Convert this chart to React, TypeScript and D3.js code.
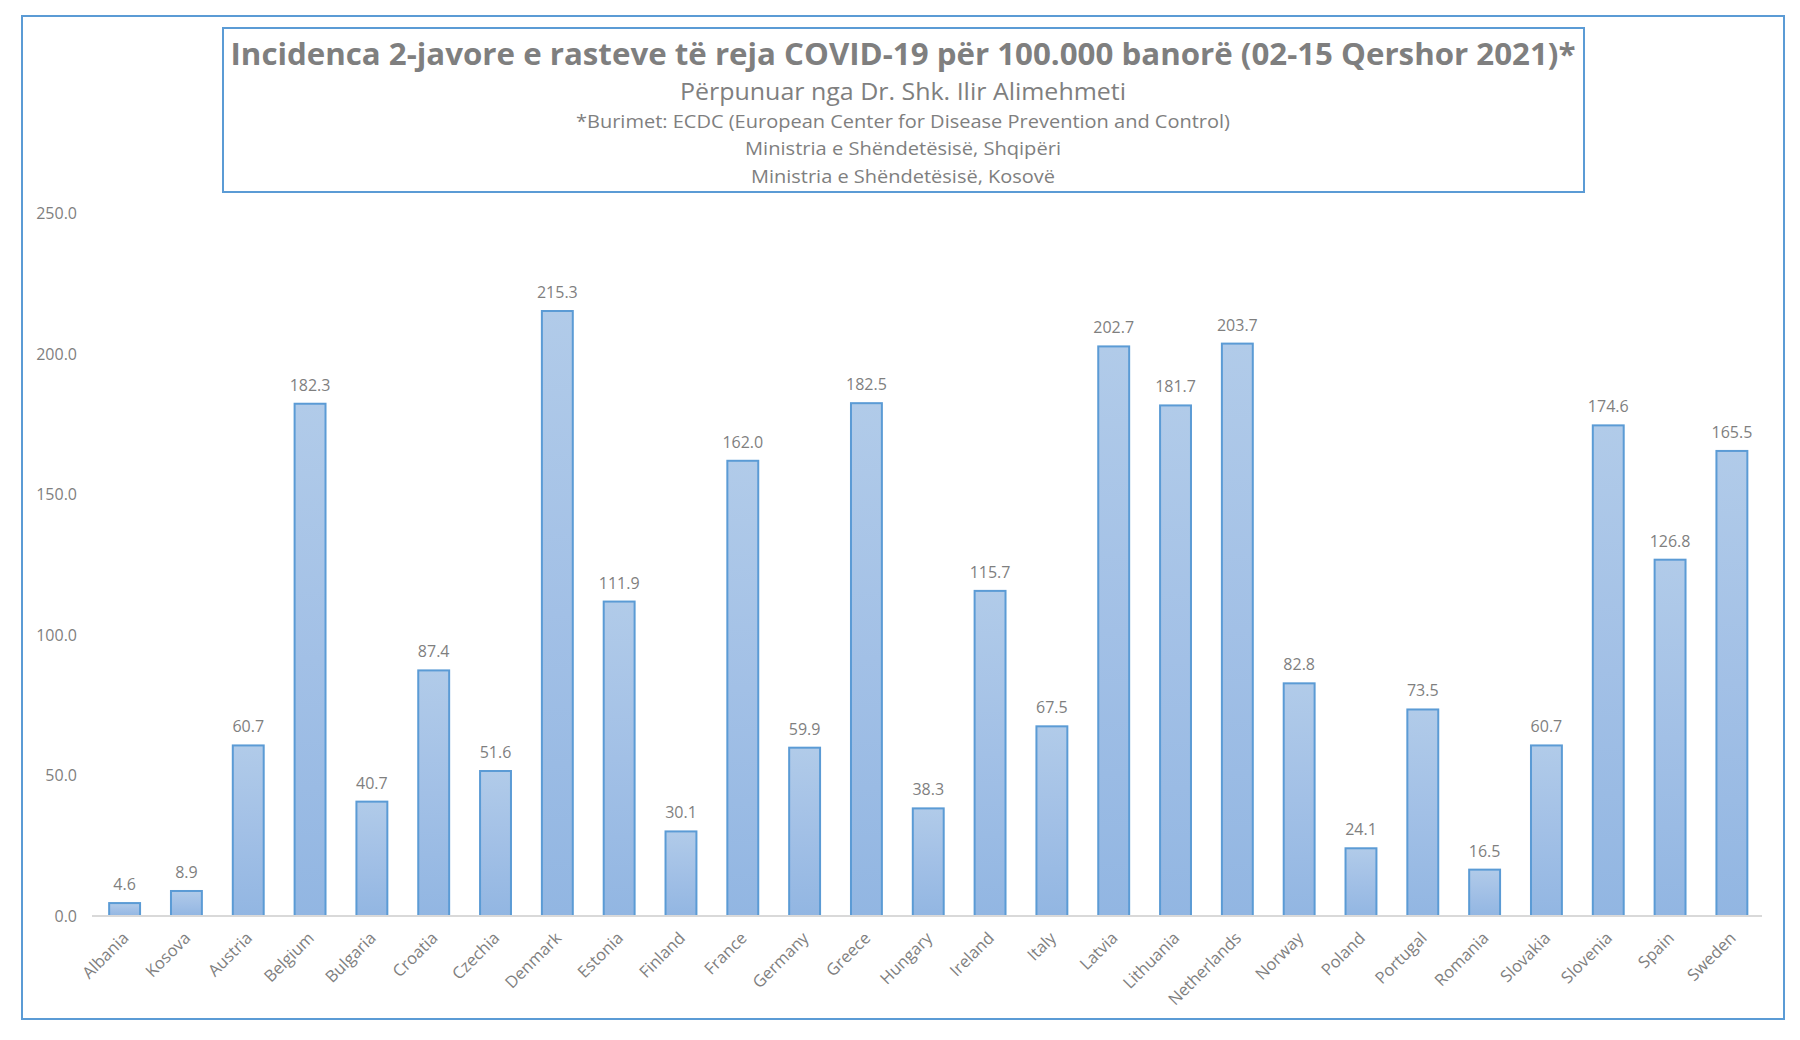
import React from "react";
import * as d3 from "d3";

const countries = ["Albania","Kosova","Austria","Belgium","Bulgaria","Croatia","Czechia","Denmark","Estonia","Finland","France","Germany","Greece","Hungary","Ireland","Italy","Latvia","Lithuania","Netherlands","Norway","Poland","Portugal","Romania","Slovakia","Slovenia","Spain","Sweden"];
const incidence = [4.6,8.9,60.7,182.3,40.7,87.4,51.6,215.3,111.9,30.1,162.0,59.9,182.5,38.3,115.7,67.5,202.7,181.7,203.7,82.8,24.1,73.5,16.5,60.7,174.6,126.8,165.5];
const yTicks = [0, 50, 100, 150, 200, 250];
const titleLines = [
  "Incidenca 2-javore e rasteve të reja COVID-19 për 100.000 banorë (02-15 Qershor 2021)*",
  "Përpunuar nga Dr. Shk. Ilir Alimehmeti",
  "*Burimet: ECDC (European Center for Disease Prevention and Control)",
  "Ministria e Shëndetësisë, Shqipëri",
  "Ministria e Shëndetësisë, Kosovë",
];

const FONT = "'Open Sans', 'Noto Sans', sans-serif";
const GRAY = "#7f7f7f";
const BLUE = "#5b9bd5";

export default function App() {
  const x = d3.scaleBand<string>().domain(countries).range([93.7, 1762.8]).paddingInner(0.5).paddingOuter(0.25);
  const y = d3.scaleLinear().domain([0, 250]).range([916, 213.5]);
  const fmt = d3.format(".1f");

  const headerStyles = [
    { y: 65, size: 30, weight: 700, len: 1345 },
    { y: 100, size: 24, weight: 400, len: 446 },
    { y: 128, size: 19, weight: 400, len: 654 },
    { y: 155, size: 19, weight: 400, len: 316 },
    { y: 183, size: 19, weight: 400, len: 304 },
  ];

  return (
    <svg width={1800} height={1040} style={{ position: "absolute", left: 0, top: 0, background: "#fff" }} fontFamily={FONT}>
      <defs>
        <linearGradient id="barGrad" x1="0" y1="0" x2="0" y2="1">
          <stop offset="0" stopColor="#b1cbe9" />
          <stop offset="0.5" stopColor="#a2c0e6" />
          <stop offset="1" stopColor="#92b6e2" />
        </linearGradient>
      </defs>
      <rect x={0} y={0} width={1800} height={1040} fill="#fff" />
      <rect x={22} y={16} width={1762} height={1003} fill="none" stroke={BLUE} strokeWidth={2} />
      <rect x={223} y={28} width={1361} height={164} fill="none" stroke={BLUE} strokeWidth={2} />
      {titleLines.map((t, i) => (
        <text key={i} x={903} y={headerStyles[i].y} textAnchor="middle" fontSize={headerStyles[i].size}
          fontWeight={headerStyles[i].weight} fill={GRAY} textLength={headerStyles[i].len} lengthAdjust="spacingAndGlyphs">{t}</text>
      ))}
      {yTicks.map((t) => (
        <text key={t} x={77} y={y(t)} dy="0.35em" textAnchor="end" fontSize={16} fill={GRAY}>{fmt(t)}</text>
      ))}
      {countries.map((c, i) => {
        const v = incidence[i];
        const bx = x(c)!;
        return (
          <g key={c}>
            <rect x={bx} y={y(v)} width={x.bandwidth()} height={y(0) - y(v)} fill="url(#barGrad)" stroke={BLUE} strokeWidth={2} />
            <text x={bx + x.bandwidth() / 2} y={y(v) - 13} textAnchor="middle" fontSize={16} fill={GRAY}>{fmt(v)}</text>
          </g>
        );
      })}
      <line x1={92} x2={1762} y1={y(0)} y2={y(0)} stroke="#d9d9d9" strokeWidth={2} />
      {countries.map((c) => {
        const cx = x(c)! + x.bandwidth() / 2 + 1;
        const cy = y(0) + 19;
        return (
          <text key={c} transform={`translate(${cx},${cy}) rotate(-45)`} textAnchor="end" dy="0.35em" fontSize={16.5} fill={GRAY}>{c}</text>
        );
      })}
    </svg>
  );
}
